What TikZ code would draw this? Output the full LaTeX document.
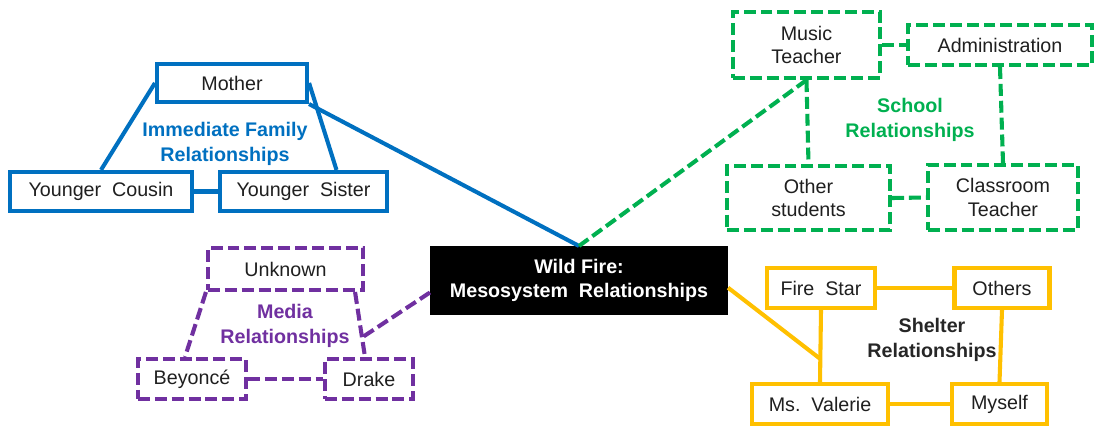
\documentclass[tikz,border=0pt]{standalone}
\usepackage{fontspec}
\setmainfont{Liberation Sans}
\definecolor{famblue}{RGB}{0,112,192}
\definecolor{schoolgreen}{RGB}{0,176,80}
\definecolor{mediapurple}{RGB}{112,48,160}
\definecolor{shelteryellow}{RGB}{255,192,0}
\tikzset{box/.style={draw, line width=2.9pt, fill=white, inner sep=0pt,
        align=center, text=black!88, font=\fontsize{14}{17}\selectfont},
    fambox/.style={box, draw=famblue},
    schoolbox/.style={box, draw=schoolgreen, dash pattern=on 8.5pt off 3.5pt},
    mediabox/.style={box, draw=mediapurple, dash pattern=on 8.5pt off 3.5pt},
    shelterbox/.style={box, draw=shelteryellow},
    famline/.style={draw=famblue, line width=2.9pt},
    schoolline/.style={draw=schoolgreen, line width=2.9pt, dash pattern=on 8.5pt off 3.5pt},
    medialine/.style={draw=mediapurple, line width=2.9pt, dash pattern=on 8.5pt off 3.5pt},
    shelterline/.style={draw=shelteryellow, line width=2.9pt},
    grouplabel/.style={align=center, font=\bfseries\fontsize{14}{17.5}\selectfont}
}

\begin{document}
\begin{tikzpicture}[x=0.025cm, y=-0.025cm]
            \useasboundingbox (0,0) rectangle (1104,426);
            % centre
            \node[box, fill=black, text=white, font=\bfseries\fontsize{14}{17}\selectfont,
                minimum width=7.35cm, minimum height=1.625cm] (wildfire) at (579,280.5)
                {Wild Fire:\\Mesosystem\ \ Relationships};
            % immediate family
            \node[fambox, minimum width=3.75cm, minimum height=0.95cm] (mother) at (232,83) {Mother};
            \node[fambox, minimum width=4.55cm, minimum height=0.975cm] (cousin) at (101,191.5) {Younger\ \ Cousin};
            \node[fambox, minimum width=4.175cm, minimum height=0.975cm] (sister) at (303.5,191.5) {Younger\ \ Sister};
            \node[grouplabel, text=famblue] (famlabel) at (225,144) {Immediate Family\\Relationships};
            \draw[famline] (mother.west) -- (cousin.north);
            \draw[famline] (mother.east) -- ([xshift=0.825cm]sister.north);
            \draw[famline] (cousin.east) -- (sister.west);
            \draw[famline] (mother.south east) -- (wildfire.north);
            % school
            \node[schoolbox, minimum width=3.675cm, minimum height=1.65cm] (music) at (806.5,45) {Music\\Teacher};
            \node[schoolbox, minimum width=4.6cm, minimum height=1cm] (admin) at (1000,45) {Administration};
            \node[schoolbox, minimum width=4.075cm, minimum height=1.6cm] (students) at (808.5,198) {Other\\students};
            \node[schoolbox, minimum width=3.75cm, minimum height=1.625cm] (classroom) at (1003,197.5) {Classroom\\Teacher};
            \node[grouplabel, text=schoolgreen] (schoollabel) at (910,120) {School\\Relationships};
            \draw[schoolline] (music.east) -- (admin.west);
            \draw[schoolline] (music.south) -- (students.north);
            \draw[schoolline] (admin.south) -- (classroom.north);
            \draw[schoolline] (students.east) -- (classroom.west);
            \draw[schoolline] (music.south) -- (wildfire.north);
            % media
            \node[mediabox, minimum width=3.875cm, minimum height=1.05cm] (unknown) at (285.5,269) {Unknown};
            \node[mediabox, minimum width=2.7cm, minimum height=1cm] (beyonce) at (192,379) {Beyoncé};
            \node[mediabox, minimum width=2.2cm, minimum height=1cm] (drake) at (369,379) {Drake};
            \node[grouplabel, text=mediapurple] (medialabel) at (285,326) {Media\\Relationships};
            \draw[medialine] (unknown.south west) -- ([xshift=-0.175cm]beyonce.north);
            \draw[medialine] ([xshift=-0.25cm]unknown.south east) -- ([xshift=-0.1cm]drake.north)
                coordinate[pos=0.7] (mediajoin);
            \draw[medialine] (beyonce.east) -- (drake.west);
            \draw[medialine] ([yshift=-0.3cm]wildfire.west) -- (mediajoin);
            % shelter
            \node[shelterbox, minimum width=2.7cm, minimum height=1cm] (firestar) at (821,288) {Fire\ \ Star};
            \node[shelterbox, minimum width=2.375cm, minimum height=1cm] (others) at (1002,288) {Others};
            \node[shelterbox, minimum width=3.4cm, minimum height=1cm] (valerie) at (820,404) {Ms.\ \ Valerie};
            \node[shelterbox, minimum width=2.375cm, minimum height=1cm] (myself) at (999.5,404) {Myself};
            \node[grouplabel, text=black!85] (shelterlabel) at (932,340) {Shelter\\Relationships};
            \draw[shelterline] (firestar.east) -- (others.west);
            \draw[shelterline] (firestar.south) -- (valerie.north) coordinate[pos=0.68] (shelterjoin);
            \draw[shelterline] (others.south) -- (myself.north);
            \draw[shelterline] (valerie.east) -- (myself.west);
            \draw[shelterline] ([yshift=-0.18cm]wildfire.east) -- (shelterjoin);
        \end{tikzpicture}
\end{document}
